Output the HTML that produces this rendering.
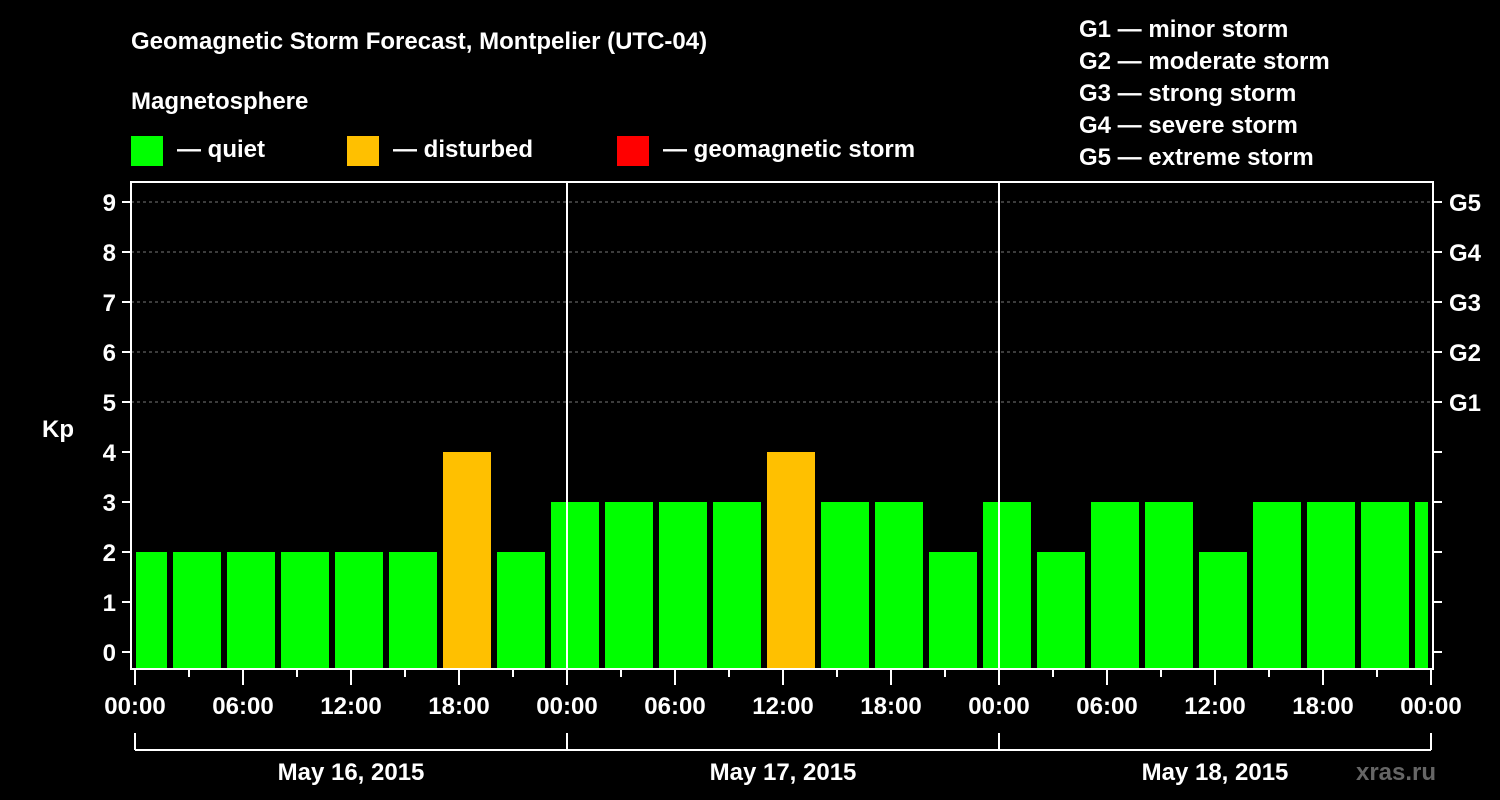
<!DOCTYPE html>
<html><head><meta charset="utf-8"><style>
html,body{margin:0;padding:0;background:#000;}
svg{display:block;font-family:"Liberation Sans",Arial,sans-serif;font-weight:bold;}
</style></head><body>
<svg id="chart" width="1500" height="800" xmlns="http://www.w3.org/2000/svg">
<rect x="0" y="0" width="1500" height="800" fill="#000"/>
<text x="131" y="49" fill="#fff" font-size="24">Geomagnetic Storm Forecast, Montpelier (UTC-04)</text>
<text x="131" y="109" fill="#fff" font-size="24">Magnetosphere</text>
<g><rect x="131" y="136" width="32" height="30" fill="#00ff00"/><text x="177" y="157" fill="#fff" font-size="24">— quiet</text></g>
<g><rect x="347" y="136" width="32" height="30" fill="#ffc000"/><text x="393" y="157" fill="#fff" font-size="24">— disturbed</text></g>
<g><rect x="617" y="136" width="32" height="30" fill="#ff0000"/><text x="663" y="157" fill="#fff" font-size="24">— geomagnetic storm</text></g>
<g fill="#fff" font-size="24">
<text x="1079" y="37">G1 — minor storm</text>
<text x="1079" y="69">G2 — moderate storm</text>
<text x="1079" y="101">G3 — strong storm</text>
<text x="1079" y="133">G4 — severe storm</text>
<text x="1079" y="165">G5 — extreme storm</text>
</g>
<text x="42" y="437" fill="#fff" font-size="24">Kp</text>
<g id="plot"></g>
<text x="1396" y="780" fill="#666" font-size="24" text-anchor="middle">xras.ru</text>
</svg>
<script>
const kpValues=[2,2,2,2,2,2,4,2,3,3,3,3,4,3,3,2,3,2,3,3,2,3,3,3,3];
const yTicks=[0,1,2,3,4,5,6,7,8,9];
const gLabels=["G1","G2","G3","G4","G5"];
const gLevels=[5,6,7,8,9];
const dayLabels=["May 16, 2015","May 17, 2015","May 18, 2015"];
const xTickLabels=["00:00","06:00","12:00","18:00"];
const NS="http://www.w3.org/2000/svg";
const plot=document.getElementById('plot');
const L=131,R=1433,T=182,B=669,X0=135,PXH=18;
const xs=h=>X0+h*PXH;
const ys=v=>652-50*v;
function mk(t,a){const e=document.createElementNS(NS,t);for(const k in a)e.setAttribute(k,a[k]);plot.appendChild(e);return e;}
// gridlines
yTicks.forEach(v=>{if(v>=5){const l=mk('line',{x1:L,x2:R,y1:ys(v),y2:ys(v),stroke:'#777','stroke-dasharray':'3,3','stroke-width':1});

}});
// bars
kpValues.forEach((v,i)=>{
 let x1=xs(3*i-1)+2,x2=xs(3*i+2)-4;
 x1=Math.max(x1,L+5);x2=Math.min(x2,R-5);
 const c=v>=5?'#ff0000':(v>=4?'#ffc000':'#00ff00');
 const r=mk('rect',{x:x1,y:ys(v),width:x2-x1,height:B-ys(v),fill:c});
 
 
});
// day separators
[1,2].forEach(d=>{const l=mk('line',{x1:xs(24*d),x2:xs(24*d),y1:T,y2:B,stroke:'#fff','stroke-width':2});

});
// frame
const f=mk('rect',{x:L,y:T,width:R-L,height:B-T,fill:'none',stroke:'#fff','stroke-width':2});


// y ticks
yTicks.forEach(v=>{
 mk('line',{x1:L-9,x2:L,y1:ys(v),y2:ys(v),stroke:'#fff','stroke-width':2});
 mk('line',{x1:R,x2:R+9,y1:ys(v),y2:ys(v),stroke:'#fff','stroke-width':2});
 const t=mk('text',{x:L-15,y:ys(v)+9,fill:'#fff','font-size':24,'text-anchor':'end'});t.textContent=v;
 
 
});
gLabels.forEach((g,i)=>{const t=mk('text',{x:R+16,y:ys(gLevels[i])+9,fill:'#fff','font-size':24});t.textContent=g;
 
 });
// x ticks
for(let h=0;h<=72;h+=3){
 const major=h%6===0;
 mk('line',{x1:xs(h),x2:xs(h),y1:B,y2:B+(major?16:8),stroke:'#fff','stroke-width':2});
 if(major&&h%6===0&&(h%24)%6===0){
  const t=mk('text',{x:xs(h),y:714,fill:'#fff','font-size':24,'text-anchor':'middle'});
  t.textContent=xTickLabels[(h%24)/6];
  
  
 }
}
// day brackets
mk('line',{x1:xs(0),x2:xs(72),y1:750,y2:750,stroke:'#fff','stroke-width':2});
[0,24,48,72].forEach(h=>mk('line',{x1:xs(h),x2:xs(h),y1:733,y2:750,stroke:'#fff','stroke-width':2}));
dayLabels.forEach((d,i)=>{const t=mk('text',{x:xs(24*i+12),y:780,fill:'#fff','font-size':24,'text-anchor':'middle'});t.textContent=d;
 
 });
</script>
</body></html>
